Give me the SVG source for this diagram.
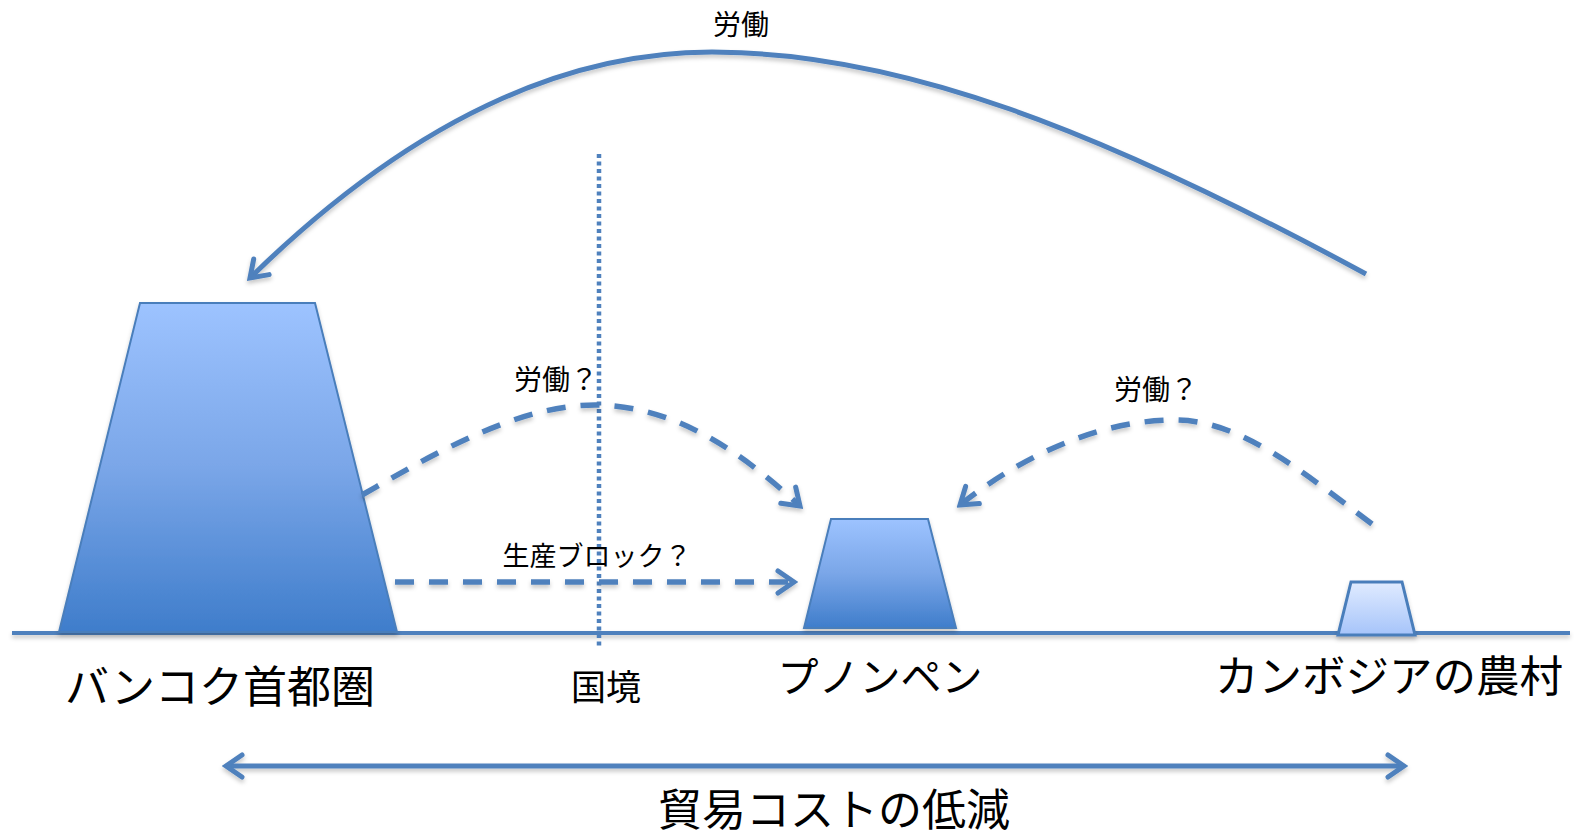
<svg xmlns="http://www.w3.org/2000/svg" width="1581" height="832" viewBox="0 0 1581 832">
<style>
.ln{fill:none;stroke:#4f81bd;stroke-width:5}
.dash{fill:none;stroke:#4f81bd;stroke-width:5.5;stroke-dasharray:19 15}
.txt{font-family:"Liberation Sans","Noto Sans CJK JP",sans-serif;fill:#000;text-anchor:middle}
.sh{filter:url(#shadow)}
</style>
<defs>
<linearGradient id="gBlue" x1="0" y1="0" x2="0" y2="1">
<stop offset="0" stop-color="#9dc3ff"/>
<stop offset="0.5" stop-color="#7aa6e8"/>
<stop offset="1" stop-color="#3f7dcb"/>
</linearGradient>
<linearGradient id="gLight" x1="0" y1="0" x2="0" y2="1">
<stop offset="0" stop-color="#e0ebff"/>
<stop offset="1" stop-color="#a6c4fa"/>
</linearGradient>
<filter id="shadow" filterUnits="userSpaceOnUse" x="0" y="0" width="1581" height="832">
<feDropShadow dx="0" dy="3" stdDeviation="2" flood-color="#000" flood-opacity="0.22"/>
</filter>
<marker id="arr" markerUnits="userSpaceOnUse" viewBox="-20 -14 24 28" markerWidth="24" markerHeight="28" refX="0" refY="0" orient="auto-start-reverse">
<path d="M-16,-11 L0,0 L-16,11" fill="none" stroke="#4f81bd" stroke-width="5" stroke-linejoin="miter" stroke-linecap="round"/>
</marker>
</defs>
<g id="ground">
<line x1="12" y1="633" x2="1570" y2="633" stroke="#4f81bd" stroke-width="4" class="sh"/>
</g>
<g id="bangkok">
<polygon points="140,303 315,303 397,632 59,632" fill="url(#gBlue)" stroke="#4a7ebb" stroke-width="2" class="sh"/>
<text class="txt" x="220" y="703" font-size="44">バンコク首都圏</text>
</g>
<g id="phnompenh">
<polygon points="831,519 928,519 956,628 804,628" fill="url(#gBlue)" stroke="#4a7ebb" stroke-width="2" class="sh"/>
<text class="txt" x="880" y="692" font-size="41">プノンペン</text>
</g>
<g id="village">
<polygon points="1351,582 1402,582 1415,635 1338,635" fill="url(#gLight)" stroke="#4a7ebb" stroke-width="3" class="sh"/>
<text class="txt" x="1389" y="692" font-size="43.5">カンボジアの農村</text>
</g>
<g id="border">
<line x1="599" y1="154" x2="599" y2="648" stroke="#4f81bd" stroke-width="4.5" stroke-dasharray="4 3.5"/>
<text class="txt" x="606" y="700" font-size="35">国境</text>
</g>
<g id="connectors">
<path class="ln sh" d="M1366,274 C1100,130 900,52 712,52 C520,52 360,170 250,278" marker-end="url(#arr)"/>
<path class="dash sh" d="M362,495 C440,450 520,405 595,405 C680,405 750,460 800,506" marker-end="url(#arr)"/>
<path class="dash sh" d="M395,582 L794,582" marker-end="url(#arr)"/>
<path class="dash sh" d="M1372,524 C1300,470 1240,420 1175,420 C1090,420 1010,465 960,505" marker-end="url(#arr)"/>
<path class="ln sh" d="M226,766 L1404,766" marker-start="url(#arr)" marker-end="url(#arr)"/>
</g>
<g id="labels">
<text class="txt" x="741" y="35" font-size="28">労働</text>
<text class="txt" x="556" y="390" font-size="28">労働？</text>
<text class="txt" x="597" y="566" font-size="27">生産ブロック？</text>
<text class="txt" x="1156" y="400" font-size="28">労働？</text>
<text class="txt" x="834" y="826" font-size="44">貿易コストの低減</text>
</g>
</svg>
